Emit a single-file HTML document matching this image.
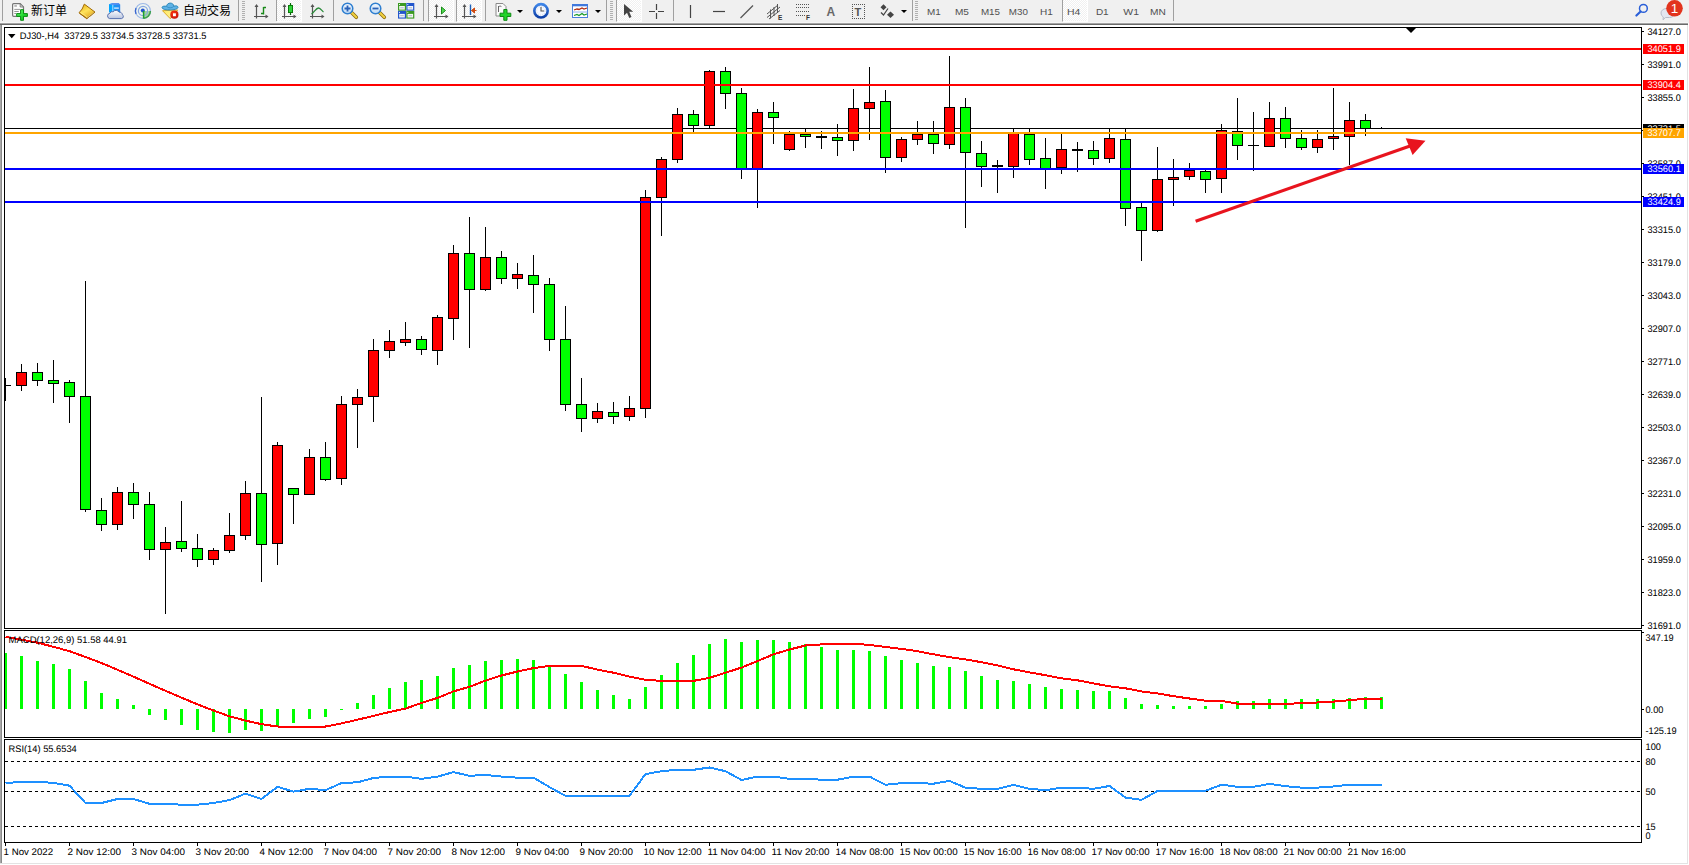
<!DOCTYPE html>
<html lang="zh-CN">
<head>
<meta charset="utf-8">
<title>DJ30-,H4</title>
<style>
html,body{margin:0;padding:0;}
body{width:1689px;height:865px;overflow:hidden;position:relative;background:#fff;font-family:"Liberation Sans","Noto Sans CJK SC",sans-serif;}
#tb{position:absolute;left:0;top:0;width:1689px;height:23px;background:#f0f0f0;}
#tbl1{position:absolute;left:0;top:22px;width:1688px;height:1px;background:#f6f6f6;}
#tbl2{position:absolute;left:0;top:23px;width:1688px;height:1px;background:#a4a4a4;}
#tbl3{position:absolute;left:0;top:24px;width:1688px;height:1px;background:#6a6a6a;}
#lb{position:absolute;left:0;top:25px;width:2px;height:838px;background:linear-gradient(90deg,#a8a8a8 50%,#8a8a8a 50%);}
#rb{position:absolute;left:1687px;top:25px;width:1px;height:839px;background:#e3e3e3;}
#bb{position:absolute;left:0;top:863px;width:1688px;height:1px;background:#e3e3e3;}
.sep{position:absolute;top:0;width:1px;height:21px;background:#a0a0a0;}
.grip{position:absolute;top:1px;width:3px;height:19px;background:repeating-linear-gradient(180deg,#b0b0b0 0,#b0b0b0 1px,transparent 1px,transparent 2px);}
.pr{position:absolute;top:0;height:22px;background:repeating-conic-gradient(#ffffff 0 25%,#f0f0f0 0 50%) 0 0/2px 2px;border-left:1px solid #a0a0a0;border-right:1px solid #fff;border-bottom:1px solid #fff;box-sizing:border-box;}
.ic{position:absolute;top:0;overflow:visible;}
.zh{position:absolute;top:3px;font-size:12px;line-height:16px;color:#000;white-space:nowrap;}
.tf{position:absolute;top:4px;font-size:9.6px;line-height:14px;color:#4a4a4a;white-space:nowrap;transform:translateX(-50%);}
.dd{position:absolute;top:10px;width:0;height:0;border-left:3px solid transparent;border-right:3px solid transparent;border-top:3px solid #000;}
</style>
</head>
<body>
<div id="tb">
<svg width="0" height="0" style="position:absolute"><defs>
<linearGradient id="gplus" x1="0" y1="0" x2="1" y2="1"><stop offset="0" stop-color="#7dff86"/><stop offset="0.5" stop-color="#25dd33"/><stop offset="1" stop-color="#0fae1c"/></linearGradient>
<linearGradient id="ggold" x1="0.2" y1="0" x2="0.8" y2="1"><stop offset="0" stop-color="#e8b418"/><stop offset="0.45" stop-color="#ffe25a"/><stop offset="1" stop-color="#dc9c12"/></linearGradient>
<linearGradient id="gcloud" x1="0" y1="0" x2="0" y2="1"><stop offset="0" stop-color="#ffffff"/><stop offset="1" stop-color="#b9c3de"/></linearGradient>
<linearGradient id="gbox" x1="0" y1="0" x2="1" y2="0"><stop offset="0" stop-color="#00a8ff"/><stop offset="1" stop-color="#2a86ee"/></linearGradient>
<linearGradient id="gfun" x1="0" y1="0" x2="1" y2="1"><stop offset="0" stop-color="#ffe860"/><stop offset="0.6" stop-color="#ffef8a"/><stop offset="1" stop-color="#e0a818"/></linearGradient>
<radialGradient id="gred" cx="0.4" cy="0.35" r="0.7"><stop offset="0" stop-color="#ff3a10"/><stop offset="1" stop-color="#c41208"/></radialGradient>
<linearGradient id="glens" x1="0" y1="0" x2="0" y2="1"><stop offset="0" stop-color="#f2f8ff"/><stop offset="1" stop-color="#bcd9f5"/></linearGradient>
<linearGradient id="gclk" x1="0" y1="0" x2="0" y2="1"><stop offset="0" stop-color="#3f86e8"/><stop offset="1" stop-color="#0d3fa8"/></linearGradient>
<radialGradient id="gbadge" cx="0.5" cy="0.3" r="0.8"><stop offset="0" stop-color="#ee5533"/><stop offset="1" stop-color="#d42210"/></radialGradient>
</defs></svg>
<div class="sep" style="left:2px"></div>
<!-- new order -->
<svg class="ic" style="left:11px" width="20" height="23" viewBox="0 0 20 23">
<path d="M2.600 3.700h6.600l3.300 3.300v9.300h-9.900a1 1 0 0 1-1-1v-10.600a1 1 0 0 1 1-1z" fill="#fefefe" stroke="#777" stroke-width="1.200"/>
<path d="M9.200 3.700v3.300h3.300z" fill="#dcdcdc" stroke="#777" stroke-width="0.900"/>
<rect x="3.300" y="5.300" width="2.600" height="1.300" fill="#999"/>
<path d="M3.300 9.400h5.800M3.300 11.500h4.500M3.300 13.500h2" stroke="#8c8c8c" stroke-width="0.900" fill="none"/>
<path d="M9.600 9.700h2.900v3.900h3.900v2.800h-3.900v3.900h-2.900v-3.900h-3.900v-2.800h3.900z" fill="url(#gplus)" stroke="#0b8a14" stroke-width="1"/>
</svg>
<span class="zh" style="left:31px">新订单</span>
<!-- gold book -->
<svg class="ic" style="left:78px" width="20" height="23" viewBox="0 0 20 23">
<path d="M6.300 4.100L17 12.100L8.800 18.700L1 12.800Q4.600 9.600 6.300 4.100z" fill="url(#ggold)" stroke="#a26a0a" stroke-width="1" stroke-linejoin="round"/>
<path d="M16.300 12.700L8.700 18.100" stroke="#f3e7b0" stroke-width="1.100" fill="none"/>
<path d="M1.600 13.300L8.800 18.500L16.700 12.400" stroke="#9a6408" stroke-width="0.900" fill="none"/>
<path d="M2.300 12.200L9 16.800" stroke="#fff0a0" stroke-width="0.800" fill="none" opacity="0.700"/>
</svg>
<!-- cloud -->
<svg class="ic" style="left:106px" width="20" height="23" viewBox="0 0 20 23">
<path d="M3 4.300l4-1.300h5.200l2 1.500v8h-11.200z" fill="url(#gbox)"/>
<path d="M3 4.300l4-1.300h5.200l2 1.500l-7.400 0.400z" fill="#5a8ff0"/>
<path d="M6.800 4.800v7" stroke="#d8f0ff" stroke-width="0.800"/>
<rect x="8.100" y="7.500" width="4.700" height="1.200" fill="#e8f4ff"/>
<path d="M3.600 18.600a2.700 2.700 0 0 1 0.300-5.300a2.600 2.600 0 0 1 3.300-1.500a3.400 3.400 0 0 1 5.800 0.400a2.500 2.500 0 0 1 3.200 2.300a2.200 2.200 0 0 1-0.700 4.100z" fill="url(#gcloud)" stroke="#4a64a8" stroke-width="0.900"/>
</svg>
<!-- signal -->
<svg class="ic" style="left:134px" width="20" height="23" viewBox="0 0 20 23">
<circle cx="9" cy="10.900" r="7.400" fill="#edf3f0" stroke="#9db8e6" stroke-width="1.200"/>
<path d="M9.700 10.900L16.400 10.900A7.400 7.400 0 0 1 9.700 18.300z" fill="#8fcf8f" opacity="0.850"/>
<path d="M9.700 18.300a7.400 7.400 0 0 0 6.700-7.400" fill="none" stroke="#3d9f4d" stroke-width="1.500"/>
<circle cx="9" cy="10.900" r="4.600" fill="none" stroke="#86a6e0" stroke-width="1.200"/>
<path d="M2 8a7.400 7.400 0 0 0 0 6" fill="none" stroke="#3a66d0" stroke-width="1.300"/>
<circle cx="8.800" cy="10.400" r="2" fill="#2456cc"/>
<path d="M9.600 11v7.600" stroke="#1fa22a" stroke-width="1.500"/>
</svg>
<!-- expert -->
<svg class="ic" style="left:161px" width="20" height="23" viewBox="0 0 20 23">
<path d="M1.500 10.700L16.700 10L9.300 18.700z" fill="url(#gfun)" stroke="#d8a21a" stroke-width="0.900" stroke-linejoin="round"/>
<path d="M1 7.800C1 5.800 4 6 5.600 6.300C6 2 12.500 2 12.800 6.200C14.500 5.600 17.200 5.600 17 7.600C16.500 10.500 2 11 1 7.800z" fill="#5fb2e6" stroke="#2684b4" stroke-width="0.900"/>
<path d="M5.600 6.400C7 8.300 11.500 8.300 12.800 6.300" fill="none" stroke="#2f8cc0" stroke-width="0.800"/>
<circle cx="13.400" cy="14.700" r="4.100" fill="url(#gred)"/>
<rect x="12" y="13.300" width="2.900" height="2.900" fill="#fff"/>
</svg>
<span class="zh" style="left:183px">自动交易</span>
<div class="sep" style="left:238px"></div><div class="grip" style="left:242px"></div>
<!-- bar chart -->
<svg class="ic" style="left:252px" width="20" height="23" viewBox="0 0 20 23">
<path d="M4.500 5v13.500M2 16.500h13.500" stroke="#555" stroke-width="1.200" fill="none"/>
<path d="M4.500 4l-2 3h4zM16.500 16.500l-3-2v4z" fill="#555"/>
<path d="M11.500 7v7.500M11.500 7.500h2.500M9 13.500h2.500" stroke="#1a8a1a" stroke-width="1.400" fill="none"/>
</svg>
<div class="sep" style="left:276px"></div>
<div class="pr" style="left:277px;width:25px;border-left:none"></div>
<!-- candle chart -->
<svg class="ic" style="left:280px" width="20" height="23" viewBox="0 0 20 23">
<path d="M4.500 5v13.500M2 16.500h13.500" stroke="#555" stroke-width="1.200" fill="none"/>
<path d="M4.500 4l-2 3h4zM16.500 16.500l-3-2v4z" fill="#555"/>
<path d="M10.500 3v12" stroke="#0a6a0a" stroke-width="1.200"/>
<rect x="8.500" y="5.500" width="4" height="7" fill="#2fd43a" stroke="#0a7a0a"/>
</svg>
<!-- line chart -->
<svg class="ic" style="left:308px" width="20" height="23" viewBox="0 0 20 23">
<path d="M4.500 5v13.500M2 16.500h13.500" stroke="#555" stroke-width="1.200" fill="none"/>
<path d="M4.500 4l-2 3h4zM16.500 16.500l-3-2v4z" fill="#555"/>
<path d="M3.500 14c3-2 4.500-6 7-6 2 0 3.500 3 5 4" stroke="#2a8a3a" stroke-width="1.300" fill="none"/>
</svg>
<div class="sep" style="left:333px"></div>
<!-- zoom in -->
<svg class="ic" style="left:340px" width="20" height="23" viewBox="0 0 20 23">
<path d="M11.300 12.300l5 5" stroke="#8a6a10" stroke-width="3.600" stroke-linecap="round"/><path d="M11.300 12.300l5 5" stroke="#f0d040" stroke-width="2" stroke-linecap="round"/>
<circle cx="7.500" cy="8.500" r="5.300" fill="url(#glens)" stroke="#2f7fd0" stroke-width="1.500"/>
<path d="M4.500 8.500h6M7.500 5.500v6" stroke="#2a62b8" stroke-width="1.800"/>
</svg>
<!-- zoom out -->
<svg class="ic" style="left:368px" width="20" height="23" viewBox="0 0 20 23">
<path d="M11.300 12.300l5 5" stroke="#8a6a10" stroke-width="3.600" stroke-linecap="round"/><path d="M11.300 12.300l5 5" stroke="#f0d040" stroke-width="2" stroke-linecap="round"/>
<circle cx="7.500" cy="8.500" r="5.300" fill="url(#glens)" stroke="#2f7fd0" stroke-width="1.500"/>
<path d="M4.500 8.500h6" stroke="#2a62b8" stroke-width="1.800"/>
</svg>
<!-- tile -->
<svg class="ic" style="left:397px" width="20" height="23" viewBox="0 0 20 23">
<rect x="1" y="3" width="8" height="7.700" fill="#3b9a22"/><rect x="9.300" y="3" width="8" height="7.700" fill="#2256cc"/>
<rect x="1" y="10.900" width="8" height="7.700" fill="#2256cc"/><rect x="9.300" y="10.900" width="8" height="7.700" fill="#3b9a22"/>
<rect x="2.200" y="6" width="5.600" height="3.600" fill="#f4f8f2"/><rect x="10.500" y="6" width="5.600" height="3.600" fill="#f2f5fc"/>
<rect x="2.200" y="13.900" width="5.600" height="3.600" fill="#f2f5fc"/><rect x="10.500" y="13.900" width="5.600" height="3.600" fill="#f4f8f2"/>
<path d="M3.200 7.800h3.600M11.500 7.800h3.600M3.200 15.700h3.600M11.500 15.700h3.600" stroke="#9ab" stroke-width="0.800"/>
<path d="M2 4.500h1M10.300 4.500h1M2 12.400h1M10.300 12.400h1" stroke="#fff" stroke-width="0.900"/>
</svg>
<div class="sep" style="left:423px"></div>
<div class="pr" style="left:428px;width:26px"></div>
<!-- autoscroll -->
<svg class="ic" style="left:432px" width="20" height="23" viewBox="0 0 20 23">
<path d="M4.500 5v13.500M2 16.500h13.500" stroke="#555" stroke-width="1.200" fill="none"/>
<path d="M4.500 4l-2 3h4zM16.500 16.500l-3-2v4z" fill="#555"/>
<path d="M9.500 7l4 3.500-4 3.500z" fill="#4fd84f" stroke="#1a8a1a"/>
</svg>
<div class="pr" style="left:456px;width:26px"></div>
<!-- chart shift -->
<svg class="ic" style="left:460px" width="20" height="23" viewBox="0 0 20 23">
<path d="M4.500 5v13.500M2 16.500h13.500" stroke="#555" stroke-width="1.200" fill="none"/>
<path d="M4.500 4l-2 3h4zM16.500 16.500l-3-2v4z" fill="#555"/>
<path d="M10.500 4.500v10.500" stroke="#1a5fb8" stroke-width="1.400"/>
<path d="M11.500 10.500h5M11.500 10.500l3-2.500v5z" stroke="#d04a10" fill="#d04a10" stroke-width="1"/>
</svg>
<div class="sep" style="left:485px"></div>
<!-- indicators -->
<svg class="ic" style="left:494px" width="20" height="23" viewBox="0 0 20 23">
<path d="M2 3.500h7l3 3v9.500h-10z" fill="#fafafa" stroke="#8a8a8a"/>
<path d="M4.500 6v6M4.500 7c2-2 3 0 3 0" stroke="#666" fill="none"/>
<path d="M9.800 9.500h3.200v3.700h3.800v3.300h-3.800v3.800h-3.200v-3.800h-3.800v-3.300h3.800z" fill="#22d32a" stroke="#0d8a12"/>
</svg>
<div class="dd" style="left:517px"></div>
<!-- clock -->
<svg class="ic" style="left:532px" width="20" height="23" viewBox="0 0 20 23">
<circle cx="9" cy="10.800" r="6.700" fill="#f6f9ff" stroke="url(#gclk)" stroke-width="2.600"/>
<circle cx="9" cy="10.800" r="4.300" fill="none" stroke="#b8c4d8" stroke-width="0.800" stroke-dasharray="0.800,1.450"/>
<path d="M9 7v4h3.200" stroke="#555" stroke-width="1.100" fill="none"/>
</svg>
<div class="dd" style="left:556px"></div>
<!-- template -->
<svg class="ic" style="left:571px" width="20" height="23" viewBox="0 0 20 23">
<rect x="1.500" y="4.500" width="15" height="13" fill="#fff" stroke="#4a7fdc"/>
<rect x="1" y="4" width="16" height="2.300" fill="#3f78dc"/>
<path d="M3 10l3-1 2 0.500 3-1.500 2 1 3-1" stroke="#b02a10" stroke-width="1.300" fill="none"/>
<path d="M1.500 12h15" stroke="#8fb0ea" stroke-width="1"/>
<path d="M3 15.500l3-1 2 1 3-2 2 1.500 3-1" stroke="#1a9a2a" stroke-width="1.300" fill="none"/>
</svg>
<div class="dd" style="left:595px"></div>
<div class="sep" style="left:606px"></div><div class="grip" style="left:610px"></div>
<div class="pr" style="left:616px;width:26px"></div>
<!-- cursor -->
<svg class="ic" style="left:620px" width="20" height="23" viewBox="0 0 20 23">
<path d="M4 4v11.500l3-2.800 2.300 5.300 2.200-1-2.300-5.200h4z" fill="#444"/>
</svg>
<!-- crosshair -->
<svg class="ic" style="left:646px" width="22" height="23" viewBox="0 0 22 23">
<path d="M10.500 4v6M10.500 13v6M3 11.500h6M12 11.500h6" stroke="#444" stroke-width="1.200"/>
</svg>
<div class="sep" style="left:673px"></div>
<svg class="ic" style="left:680px" width="240" height="23" viewBox="0 0 240 23">
<!-- vline x=690 -->
<path d="M10.500 5v13" stroke="#444" stroke-width="1.200"/>
<!-- hline 713-725 -->
<path d="M33 11.500h12" stroke="#444" stroke-width="1.200"/>
<!-- trendline -->
<path d="M60.500 18l12.500-12.500" stroke="#555" stroke-width="1.200"/>
<!-- channel -->
<path d="M87 14l11-9M87 17.500l13-10.500M89 19l11-8.500M90.500 9.500v9M94 7v9M97.500 4v9" stroke="#555" stroke-width="1" fill="none"/>
<text x="98" y="19.500" font-size="6.500" font-weight="bold" fill="#333" font-family="Liberation Sans, sans-serif">E</text>
<!-- fibo -->
<path d="M116 4.500h13M116 7.500h13M116 11.500h13M116 15.500h9" stroke="#555" stroke-width="1" stroke-dasharray="1,1" shape-rendering="crispEdges"/>
<text x="126" y="19.500" font-size="6.500" font-weight="bold" fill="#333" font-family="Liberation Sans, sans-serif">F</text>
<!-- A -->
<text x="146.500" y="15.800" font-size="12" font-weight="bold" fill="#686868" font-family="Liberation Sans, sans-serif">A</text>
<!-- T box -->
<g fill="#555" shape-rendering="crispEdges"><rect x="172" y="4" width="1" height="1"/><rect x="172" y="18" width="1" height="1"/><rect x="174" y="4" width="1" height="1"/><rect x="174" y="18" width="1" height="1"/><rect x="176" y="4" width="1" height="1"/><rect x="176" y="18" width="1" height="1"/><rect x="178" y="4" width="1" height="1"/><rect x="178" y="18" width="1" height="1"/><rect x="180" y="4" width="1" height="1"/><rect x="180" y="18" width="1" height="1"/><rect x="182" y="4" width="1" height="1"/><rect x="182" y="18" width="1" height="1"/><rect x="184" y="4" width="1" height="1"/><rect x="184" y="18" width="1" height="1"/><rect x="172" y="4" width="1" height="1"/><rect x="184" y="4" width="1" height="1"/><rect x="172" y="6" width="1" height="1"/><rect x="184" y="6" width="1" height="1"/><rect x="172" y="8" width="1" height="1"/><rect x="184" y="8" width="1" height="1"/><rect x="172" y="10" width="1" height="1"/><rect x="184" y="10" width="1" height="1"/><rect x="172" y="12" width="1" height="1"/><rect x="184" y="12" width="1" height="1"/><rect x="172" y="14" width="1" height="1"/><rect x="184" y="14" width="1" height="1"/><rect x="172" y="16" width="1" height="1"/><rect x="184" y="16" width="1" height="1"/><rect x="172" y="18" width="1" height="1"/><rect x="184" y="18" width="1" height="1"/></g>
<text x="174.600" y="16" font-size="11" font-weight="bold" fill="#555" font-family="Liberation Sans, sans-serif">T</text>
<!-- arrows -->
<path d="M203.500 4.300l3 3-3 3-3-3z" fill="#444"/>
<path d="M210.500 11.500l3.500 3.200-3.500 3.300-3.500-3.300z" fill="#444"/>
<path d="M201 12.500l2.500 2.500 4.500-6.500" stroke="#444" stroke-width="1.200" fill="none"/>
</svg>
<div class="dd" style="left:901px"></div>
<div class="sep" style="left:912px"></div><div class="grip" style="left:915px"></div>
<div class="pr" style="left:1062px;width:26px"></div>
<svg class="ic" style="left:920px" width="260" height="23" viewBox="920 0 260 23" font-family="Liberation Sans, sans-serif" font-size="9.800" fill="#505050"><text x="927.0" y="15" textLength="13.8" lengthAdjust="spacingAndGlyphs">M1</text><text x="954.9" y="15" textLength="14.0" lengthAdjust="spacingAndGlyphs">M5</text><text x="980.9" y="15" textLength="19.1" lengthAdjust="spacingAndGlyphs">M15</text><text x="1008.8" y="15" textLength="19.1" lengthAdjust="spacingAndGlyphs">M30</text><text x="1040.0" y="15" textLength="12.8" lengthAdjust="spacingAndGlyphs">H1</text><text x="1067.1" y="15" textLength="13.3" lengthAdjust="spacingAndGlyphs">H4</text><text x="1095.9" y="15" textLength="12.8" lengthAdjust="spacingAndGlyphs">D1</text><text x="1123.3" y="15" textLength="15.7" lengthAdjust="spacingAndGlyphs">W1</text><text x="1150.1" y="15" textLength="15.8" lengthAdjust="spacingAndGlyphs">MN</text></svg>
<div class="sep" style="left:1173px"></div>
<!-- search -->
<svg class="ic" style="left:1630px" width="24" height="23" viewBox="0 0 24 23">
<circle cx="13.400" cy="8.400" r="3.900" fill="none" stroke="#2a5fd8" stroke-width="1.500"/>
<path d="M10.600 11.500l-4.200 4" stroke="#2a5fd8" stroke-width="2.200" stroke-linecap="round"/>
</svg>
<!-- chat + badge -->
<svg class="ic" style="left:1656px" width="33" height="23" viewBox="0 0 33 23">
<path d="M5 13a5.500 4.500 0 0 1 5.500-4.500h3a5.500 4.500 0 0 1 0 9h-4l-2.500 2.300 0.300-2.800a5 4.500 0 0 1-2.300-4z" fill="#e3e6ef" stroke="#b8bcc8" stroke-width="1"/>
<circle cx="18.500" cy="8.300" r="8.300" fill="#e2341d"/>
<text x="18.500" y="13.300" font-size="13.500" fill="#fff" text-anchor="middle" font-family="Liberation Sans, sans-serif">1</text>
</svg>

</div>
<div id="tbl1"></div><div id="tbl2"></div><div id="tbl3"></div>
<div id="lb"></div><div id="rb"></div><div id="bb"></div>
<svg id="chart" width="1689" height="865" viewBox="0 0 1689 865" style="position:absolute;left:0;top:0" shape-rendering="crispEdges" font-family='"Liberation Sans", sans-serif' font-size="9.6" text-rendering="geometricPrecision">
<defs><clipPath id="cm"><rect x="5" y="28" width="1636" height="600"/></clipPath><clipPath id="c2"><rect x="5" y="631" width="1636" height="106"/></clipPath><clipPath id="c3"><rect x="5" y="740" width="1636" height="102"/></clipPath></defs>
<rect x="4" y="27" width="1638" height="1" fill="#000"/>
<rect x="4" y="628" width="1638" height="1" fill="#000"/>
<rect x="4" y="27" width="1" height="602" fill="#000"/>
<rect x="1641" y="27" width="1" height="602" fill="#000"/>
<rect x="4" y="630" width="1638" height="1" fill="#000"/>
<rect x="4" y="737" width="1638" height="1" fill="#000"/>
<rect x="4" y="630" width="1" height="108" fill="#000"/>
<rect x="1641" y="630" width="1" height="108" fill="#000"/>
<rect x="4" y="739" width="1638" height="1" fill="#000"/>
<rect x="4" y="842" width="1638" height="1" fill="#000"/>
<rect x="4" y="739" width="1" height="104" fill="#000"/>
<rect x="1641" y="739" width="1" height="104" fill="#000"/>
<g clip-path="url(#cm)">
<rect x="5" y="128" width="1636" height="1" fill="#000"/>
<rect x="5" y="378" width="1" height="23" fill="#000"/>
<rect x="0" y="385" width="11" height="1" fill="#000"/>
<rect x="21" y="364" width="1" height="27" fill="#000"/>
<rect x="16" y="372" width="11" height="14" fill="#000"/>
<rect x="17" y="373" width="9" height="12" fill="#ff0000"/>
<rect x="37" y="363" width="1" height="23" fill="#000"/>
<rect x="32" y="372" width="11" height="9" fill="#000"/>
<rect x="33" y="373" width="9" height="7" fill="#00ff00"/>
<rect x="53" y="360" width="1" height="43" fill="#000"/>
<rect x="48" y="380" width="11" height="4" fill="#000"/>
<rect x="49" y="381" width="9" height="2" fill="#00ff00"/>
<rect x="69" y="380" width="1" height="43" fill="#000"/>
<rect x="64" y="382" width="11" height="15" fill="#000"/>
<rect x="65" y="383" width="9" height="13" fill="#00ff00"/>
<rect x="85" y="281" width="1" height="231" fill="#000"/>
<rect x="80" y="396" width="11" height="114" fill="#000"/>
<rect x="81" y="397" width="9" height="112" fill="#00ff00"/>
<rect x="101" y="498" width="1" height="33" fill="#000"/>
<rect x="96" y="510" width="11" height="15" fill="#000"/>
<rect x="97" y="511" width="9" height="13" fill="#00ff00"/>
<rect x="117" y="487" width="1" height="43" fill="#000"/>
<rect x="112" y="492" width="11" height="33" fill="#000"/>
<rect x="113" y="493" width="9" height="31" fill="#ff0000"/>
<rect x="133" y="483" width="1" height="36" fill="#000"/>
<rect x="128" y="492" width="11" height="13" fill="#000"/>
<rect x="129" y="493" width="9" height="11" fill="#00ff00"/>
<rect x="149" y="492" width="1" height="68" fill="#000"/>
<rect x="144" y="504" width="11" height="46" fill="#000"/>
<rect x="145" y="505" width="9" height="44" fill="#00ff00"/>
<rect x="165" y="527" width="1" height="87" fill="#000"/>
<rect x="160" y="542" width="11" height="8" fill="#000"/>
<rect x="161" y="543" width="9" height="6" fill="#ff0000"/>
<rect x="181" y="501" width="1" height="51" fill="#000"/>
<rect x="176" y="541" width="11" height="8" fill="#000"/>
<rect x="177" y="542" width="9" height="6" fill="#00ff00"/>
<rect x="197" y="534" width="1" height="33" fill="#000"/>
<rect x="192" y="548" width="11" height="12" fill="#000"/>
<rect x="193" y="549" width="9" height="10" fill="#00ff00"/>
<rect x="213" y="548" width="1" height="17" fill="#000"/>
<rect x="208" y="550" width="11" height="10" fill="#000"/>
<rect x="209" y="551" width="9" height="8" fill="#ff0000"/>
<rect x="229" y="513" width="1" height="40" fill="#000"/>
<rect x="224" y="535" width="11" height="16" fill="#000"/>
<rect x="225" y="536" width="9" height="14" fill="#ff0000"/>
<rect x="245" y="481" width="1" height="59" fill="#000"/>
<rect x="240" y="493" width="11" height="43" fill="#000"/>
<rect x="241" y="494" width="9" height="41" fill="#ff0000"/>
<rect x="261" y="397" width="1" height="185" fill="#000"/>
<rect x="256" y="493" width="11" height="52" fill="#000"/>
<rect x="257" y="494" width="9" height="50" fill="#00ff00"/>
<rect x="277" y="442" width="1" height="123" fill="#000"/>
<rect x="272" y="445" width="11" height="99" fill="#000"/>
<rect x="273" y="446" width="9" height="97" fill="#ff0000"/>
<rect x="293" y="488" width="1" height="36" fill="#000"/>
<rect x="288" y="488" width="11" height="7" fill="#000"/>
<rect x="289" y="489" width="9" height="5" fill="#00ff00"/>
<rect x="309" y="449" width="1" height="46" fill="#000"/>
<rect x="304" y="457" width="11" height="38" fill="#000"/>
<rect x="305" y="458" width="9" height="36" fill="#ff0000"/>
<rect x="325" y="442" width="1" height="39" fill="#000"/>
<rect x="320" y="457" width="11" height="23" fill="#000"/>
<rect x="321" y="458" width="9" height="21" fill="#00ff00"/>
<rect x="341" y="396" width="1" height="89" fill="#000"/>
<rect x="336" y="404" width="11" height="75" fill="#000"/>
<rect x="337" y="405" width="9" height="73" fill="#ff0000"/>
<rect x="357" y="389" width="1" height="59" fill="#000"/>
<rect x="352" y="397" width="11" height="8" fill="#000"/>
<rect x="353" y="398" width="9" height="6" fill="#ff0000"/>
<rect x="373" y="339" width="1" height="83" fill="#000"/>
<rect x="368" y="350" width="11" height="47" fill="#000"/>
<rect x="369" y="351" width="9" height="45" fill="#ff0000"/>
<rect x="389" y="330" width="1" height="28" fill="#000"/>
<rect x="384" y="341" width="11" height="10" fill="#000"/>
<rect x="385" y="342" width="9" height="8" fill="#ff0000"/>
<rect x="405" y="322" width="1" height="24" fill="#000"/>
<rect x="400" y="339" width="11" height="4" fill="#000"/>
<rect x="401" y="340" width="9" height="2" fill="#ff0000"/>
<rect x="421" y="336" width="1" height="19" fill="#000"/>
<rect x="416" y="339" width="11" height="11" fill="#000"/>
<rect x="417" y="340" width="9" height="9" fill="#00ff00"/>
<rect x="437" y="315" width="1" height="50" fill="#000"/>
<rect x="432" y="317" width="11" height="34" fill="#000"/>
<rect x="433" y="318" width="9" height="32" fill="#ff0000"/>
<rect x="453" y="245" width="1" height="95" fill="#000"/>
<rect x="448" y="253" width="11" height="66" fill="#000"/>
<rect x="449" y="254" width="9" height="64" fill="#ff0000"/>
<rect x="469" y="217" width="1" height="131" fill="#000"/>
<rect x="464" y="253" width="11" height="37" fill="#000"/>
<rect x="465" y="254" width="9" height="35" fill="#00ff00"/>
<rect x="485" y="227" width="1" height="64" fill="#000"/>
<rect x="480" y="257" width="11" height="33" fill="#000"/>
<rect x="481" y="258" width="9" height="31" fill="#ff0000"/>
<rect x="501" y="251" width="1" height="33" fill="#000"/>
<rect x="496" y="257" width="11" height="22" fill="#000"/>
<rect x="497" y="258" width="9" height="20" fill="#00ff00"/>
<rect x="517" y="263" width="1" height="26" fill="#000"/>
<rect x="512" y="274" width="11" height="5" fill="#000"/>
<rect x="513" y="275" width="9" height="3" fill="#ff0000"/>
<rect x="533" y="255" width="1" height="58" fill="#000"/>
<rect x="528" y="275" width="11" height="10" fill="#000"/>
<rect x="529" y="276" width="9" height="8" fill="#00ff00"/>
<rect x="549" y="278" width="1" height="73" fill="#000"/>
<rect x="544" y="284" width="11" height="56" fill="#000"/>
<rect x="545" y="285" width="9" height="54" fill="#00ff00"/>
<rect x="565" y="306" width="1" height="105" fill="#000"/>
<rect x="560" y="339" width="11" height="66" fill="#000"/>
<rect x="561" y="340" width="9" height="64" fill="#00ff00"/>
<rect x="581" y="378" width="1" height="54" fill="#000"/>
<rect x="576" y="404" width="11" height="15" fill="#000"/>
<rect x="577" y="405" width="9" height="13" fill="#00ff00"/>
<rect x="597" y="403" width="1" height="20" fill="#000"/>
<rect x="592" y="411" width="11" height="8" fill="#000"/>
<rect x="593" y="412" width="9" height="6" fill="#ff0000"/>
<rect x="613" y="402" width="1" height="22" fill="#000"/>
<rect x="608" y="412" width="11" height="5" fill="#000"/>
<rect x="609" y="413" width="9" height="3" fill="#00ff00"/>
<rect x="629" y="396" width="1" height="25" fill="#000"/>
<rect x="624" y="408" width="11" height="9" fill="#000"/>
<rect x="625" y="409" width="9" height="7" fill="#ff0000"/>
<rect x="645" y="190" width="1" height="228" fill="#000"/>
<rect x="640" y="197" width="11" height="212" fill="#000"/>
<rect x="641" y="198" width="9" height="210" fill="#ff0000"/>
<rect x="661" y="157" width="1" height="79" fill="#000"/>
<rect x="656" y="159" width="11" height="39" fill="#000"/>
<rect x="657" y="160" width="9" height="37" fill="#ff0000"/>
<rect x="677" y="108" width="1" height="55" fill="#000"/>
<rect x="672" y="114" width="11" height="46" fill="#000"/>
<rect x="673" y="115" width="9" height="44" fill="#ff0000"/>
<rect x="693" y="110" width="1" height="22" fill="#000"/>
<rect x="688" y="114" width="11" height="12" fill="#000"/>
<rect x="689" y="115" width="9" height="10" fill="#00ff00"/>
<rect x="709" y="70" width="1" height="58" fill="#000"/>
<rect x="704" y="71" width="11" height="55" fill="#000"/>
<rect x="705" y="72" width="9" height="53" fill="#ff0000"/>
<rect x="725" y="67" width="1" height="42" fill="#000"/>
<rect x="720" y="71" width="11" height="23" fill="#000"/>
<rect x="721" y="72" width="9" height="21" fill="#00ff00"/>
<rect x="741" y="88" width="1" height="91" fill="#000"/>
<rect x="736" y="93" width="11" height="76" fill="#000"/>
<rect x="737" y="94" width="9" height="74" fill="#00ff00"/>
<rect x="757" y="109" width="1" height="99" fill="#000"/>
<rect x="752" y="112" width="11" height="57" fill="#000"/>
<rect x="753" y="113" width="9" height="55" fill="#ff0000"/>
<rect x="773" y="102" width="1" height="42" fill="#000"/>
<rect x="768" y="112" width="11" height="6" fill="#000"/>
<rect x="769" y="113" width="9" height="4" fill="#00ff00"/>
<rect x="789" y="131" width="1" height="20" fill="#000"/>
<rect x="784" y="134" width="11" height="16" fill="#000"/>
<rect x="785" y="135" width="9" height="14" fill="#ff0000"/>
<rect x="805" y="128" width="1" height="20" fill="#000"/>
<rect x="800" y="134" width="11" height="3" fill="#000"/>
<rect x="801" y="135" width="9" height="1" fill="#00ff00"/>
<rect x="821" y="131" width="1" height="18" fill="#000"/>
<rect x="816" y="136" width="11" height="2" fill="#000"/>
<rect x="837" y="124" width="1" height="32" fill="#000"/>
<rect x="832" y="137" width="11" height="4" fill="#000"/>
<rect x="833" y="138" width="9" height="2" fill="#00ff00"/>
<rect x="853" y="89" width="1" height="62" fill="#000"/>
<rect x="848" y="108" width="11" height="33" fill="#000"/>
<rect x="849" y="109" width="9" height="31" fill="#ff0000"/>
<rect x="869" y="67" width="1" height="73" fill="#000"/>
<rect x="864" y="102" width="11" height="7" fill="#000"/>
<rect x="865" y="103" width="9" height="5" fill="#ff0000"/>
<rect x="885" y="90" width="1" height="83" fill="#000"/>
<rect x="880" y="101" width="11" height="57" fill="#000"/>
<rect x="881" y="102" width="9" height="55" fill="#00ff00"/>
<rect x="901" y="137" width="1" height="25" fill="#000"/>
<rect x="896" y="139" width="11" height="19" fill="#000"/>
<rect x="897" y="140" width="9" height="17" fill="#ff0000"/>
<rect x="917" y="121" width="1" height="24" fill="#000"/>
<rect x="912" y="134" width="11" height="6" fill="#000"/>
<rect x="913" y="135" width="9" height="4" fill="#ff0000"/>
<rect x="933" y="121" width="1" height="33" fill="#000"/>
<rect x="928" y="134" width="11" height="10" fill="#000"/>
<rect x="929" y="135" width="9" height="8" fill="#00ff00"/>
<rect x="949" y="56" width="1" height="93" fill="#000"/>
<rect x="944" y="107" width="11" height="38" fill="#000"/>
<rect x="945" y="108" width="9" height="36" fill="#ff0000"/>
<rect x="965" y="98" width="1" height="130" fill="#000"/>
<rect x="960" y="107" width="11" height="46" fill="#000"/>
<rect x="961" y="108" width="9" height="44" fill="#00ff00"/>
<rect x="981" y="141" width="1" height="46" fill="#000"/>
<rect x="976" y="153" width="11" height="14" fill="#000"/>
<rect x="977" y="154" width="9" height="12" fill="#00ff00"/>
<rect x="997" y="160" width="1" height="33" fill="#000"/>
<rect x="992" y="165" width="11" height="2" fill="#000"/>
<rect x="1013" y="129" width="1" height="49" fill="#000"/>
<rect x="1008" y="133" width="11" height="34" fill="#000"/>
<rect x="1009" y="134" width="9" height="32" fill="#ff0000"/>
<rect x="1029" y="129" width="1" height="36" fill="#000"/>
<rect x="1024" y="134" width="11" height="26" fill="#000"/>
<rect x="1025" y="135" width="9" height="24" fill="#00ff00"/>
<rect x="1045" y="138" width="1" height="51" fill="#000"/>
<rect x="1040" y="158" width="11" height="11" fill="#000"/>
<rect x="1041" y="159" width="9" height="9" fill="#00ff00"/>
<rect x="1061" y="133" width="1" height="41" fill="#000"/>
<rect x="1056" y="149" width="11" height="19" fill="#000"/>
<rect x="1057" y="150" width="9" height="17" fill="#ff0000"/>
<rect x="1077" y="142" width="1" height="30" fill="#000"/>
<rect x="1072" y="149" width="11" height="2" fill="#000"/>
<rect x="1093" y="141" width="1" height="24" fill="#000"/>
<rect x="1088" y="150" width="11" height="9" fill="#000"/>
<rect x="1089" y="151" width="9" height="7" fill="#00ff00"/>
<rect x="1109" y="128" width="1" height="35" fill="#000"/>
<rect x="1104" y="138" width="11" height="21" fill="#000"/>
<rect x="1105" y="139" width="9" height="19" fill="#ff0000"/>
<rect x="1125" y="128" width="1" height="98" fill="#000"/>
<rect x="1120" y="139" width="11" height="70" fill="#000"/>
<rect x="1121" y="140" width="9" height="68" fill="#00ff00"/>
<rect x="1141" y="202" width="1" height="59" fill="#000"/>
<rect x="1136" y="207" width="11" height="24" fill="#000"/>
<rect x="1137" y="208" width="9" height="22" fill="#00ff00"/>
<rect x="1157" y="147" width="1" height="85" fill="#000"/>
<rect x="1152" y="179" width="11" height="52" fill="#000"/>
<rect x="1153" y="180" width="9" height="50" fill="#ff0000"/>
<rect x="1173" y="159" width="1" height="47" fill="#000"/>
<rect x="1168" y="177" width="11" height="3" fill="#000"/>
<rect x="1169" y="178" width="9" height="1" fill="#ff0000"/>
<rect x="1189" y="163" width="1" height="17" fill="#000"/>
<rect x="1184" y="170" width="11" height="7" fill="#000"/>
<rect x="1185" y="171" width="9" height="5" fill="#ff0000"/>
<rect x="1205" y="169" width="1" height="24" fill="#000"/>
<rect x="1200" y="171" width="11" height="9" fill="#000"/>
<rect x="1201" y="172" width="9" height="7" fill="#00ff00"/>
<rect x="1221" y="124" width="1" height="69" fill="#000"/>
<rect x="1216" y="130" width="11" height="49" fill="#000"/>
<rect x="1217" y="131" width="9" height="47" fill="#ff0000"/>
<rect x="1237" y="98" width="1" height="62" fill="#000"/>
<rect x="1232" y="131" width="11" height="15" fill="#000"/>
<rect x="1233" y="132" width="9" height="13" fill="#00ff00"/>
<rect x="1253" y="112" width="1" height="59" fill="#000"/>
<rect x="1248" y="145" width="11" height="1" fill="#000"/>
<rect x="1269" y="102" width="1" height="45" fill="#000"/>
<rect x="1264" y="118" width="11" height="29" fill="#000"/>
<rect x="1265" y="119" width="9" height="27" fill="#ff0000"/>
<rect x="1285" y="107" width="1" height="41" fill="#000"/>
<rect x="1280" y="118" width="11" height="21" fill="#000"/>
<rect x="1281" y="119" width="9" height="19" fill="#00ff00"/>
<rect x="1301" y="130" width="1" height="20" fill="#000"/>
<rect x="1296" y="138" width="11" height="10" fill="#000"/>
<rect x="1297" y="139" width="9" height="8" fill="#00ff00"/>
<rect x="1317" y="130" width="1" height="23" fill="#000"/>
<rect x="1312" y="139" width="11" height="9" fill="#000"/>
<rect x="1313" y="140" width="9" height="7" fill="#ff0000"/>
<rect x="1333" y="88" width="1" height="62" fill="#000"/>
<rect x="1328" y="136" width="11" height="3" fill="#000"/>
<rect x="1329" y="137" width="9" height="1" fill="#ff0000"/>
<rect x="1349" y="102" width="1" height="63" fill="#000"/>
<rect x="1344" y="120" width="11" height="17" fill="#000"/>
<rect x="1345" y="121" width="9" height="15" fill="#ff0000"/>
<rect x="1365" y="114" width="1" height="22" fill="#000"/>
<rect x="1360" y="120" width="11" height="9" fill="#000"/>
<rect x="1361" y="121" width="9" height="7" fill="#00ff00"/>
<rect x="1381" y="127" width="1" height="2" fill="#000"/>
<rect x="1376" y="128" width="11" height="1" fill="#000"/>
<rect x="5" y="48" width="1636" height="2" fill="#ff0000"/>
<rect x="5" y="84" width="1636" height="2" fill="#ff0000"/>
<rect x="5" y="132" width="1636" height="2" fill="#ffa500"/>
<rect x="5" y="168" width="1636" height="2" fill="#0000ff"/>
<rect x="5" y="201" width="1636" height="2" fill="#0000ff"/>
</g>
<g shape-rendering="geometricPrecision"><line x1="1195.6" y1="221.2" x2="1410" y2="146" stroke="#e8141e" stroke-width="3.2"/><polygon points="1425.5,140.7 1405.7,138.2 1412.6,154.9" fill="#e8141e"/></g>
<polygon points="1406,28 1416,28 1411,33" fill="#000" shape-rendering="geometricPrecision"/>
<g clip-path="url(#c2)">
<rect x="4" y="653" width="3" height="56" fill="#00ff00"/>
<rect x="20" y="656" width="3" height="53" fill="#00ff00"/>
<rect x="36" y="661" width="3" height="48" fill="#00ff00"/>
<rect x="52" y="664" width="3" height="45" fill="#00ff00"/>
<rect x="68" y="669" width="3" height="40" fill="#00ff00"/>
<rect x="84" y="681" width="3" height="28" fill="#00ff00"/>
<rect x="100" y="693" width="3" height="16" fill="#00ff00"/>
<rect x="116" y="699" width="3" height="10" fill="#00ff00"/>
<rect x="132" y="705" width="3" height="4" fill="#00ff00"/>
<rect x="148" y="709" width="3" height="6" fill="#00ff00"/>
<rect x="164" y="709" width="3" height="11" fill="#00ff00"/>
<rect x="180" y="709" width="3" height="16" fill="#00ff00"/>
<rect x="196" y="709" width="3" height="21" fill="#00ff00"/>
<rect x="212" y="709" width="3" height="23" fill="#00ff00"/>
<rect x="228" y="709" width="3" height="24" fill="#00ff00"/>
<rect x="244" y="709" width="3" height="21" fill="#00ff00"/>
<rect x="260" y="709" width="3" height="22" fill="#00ff00"/>
<rect x="276" y="709" width="3" height="17" fill="#00ff00"/>
<rect x="292" y="709" width="3" height="14" fill="#00ff00"/>
<rect x="308" y="709" width="3" height="10" fill="#00ff00"/>
<rect x="324" y="709" width="3" height="8" fill="#00ff00"/>
<rect x="340" y="709" width="3" height="1" fill="#00ff00"/>
<rect x="356" y="703" width="3" height="6" fill="#00ff00"/>
<rect x="372" y="695" width="3" height="14" fill="#00ff00"/>
<rect x="388" y="688" width="3" height="21" fill="#00ff00"/>
<rect x="404" y="682" width="3" height="27" fill="#00ff00"/>
<rect x="420" y="680" width="3" height="29" fill="#00ff00"/>
<rect x="436" y="676" width="3" height="33" fill="#00ff00"/>
<rect x="452" y="668" width="3" height="41" fill="#00ff00"/>
<rect x="468" y="665" width="3" height="44" fill="#00ff00"/>
<rect x="484" y="661" width="3" height="48" fill="#00ff00"/>
<rect x="500" y="660" width="3" height="49" fill="#00ff00"/>
<rect x="516" y="659" width="3" height="50" fill="#00ff00"/>
<rect x="532" y="660" width="3" height="49" fill="#00ff00"/>
<rect x="548" y="665" width="3" height="44" fill="#00ff00"/>
<rect x="564" y="674" width="3" height="35" fill="#00ff00"/>
<rect x="580" y="682" width="3" height="27" fill="#00ff00"/>
<rect x="596" y="690" width="3" height="19" fill="#00ff00"/>
<rect x="612" y="695" width="3" height="14" fill="#00ff00"/>
<rect x="628" y="699" width="3" height="10" fill="#00ff00"/>
<rect x="644" y="687" width="3" height="22" fill="#00ff00"/>
<rect x="660" y="675" width="3" height="34" fill="#00ff00"/>
<rect x="676" y="663" width="3" height="46" fill="#00ff00"/>
<rect x="692" y="655" width="3" height="54" fill="#00ff00"/>
<rect x="708" y="644" width="3" height="65" fill="#00ff00"/>
<rect x="724" y="639" width="3" height="70" fill="#00ff00"/>
<rect x="740" y="642" width="3" height="67" fill="#00ff00"/>
<rect x="756" y="640" width="3" height="69" fill="#00ff00"/>
<rect x="772" y="640" width="3" height="69" fill="#00ff00"/>
<rect x="788" y="642" width="3" height="67" fill="#00ff00"/>
<rect x="804" y="644" width="3" height="65" fill="#00ff00"/>
<rect x="820" y="647" width="3" height="62" fill="#00ff00"/>
<rect x="836" y="650" width="3" height="59" fill="#00ff00"/>
<rect x="852" y="650" width="3" height="59" fill="#00ff00"/>
<rect x="868" y="651" width="3" height="58" fill="#00ff00"/>
<rect x="884" y="656" width="3" height="53" fill="#00ff00"/>
<rect x="900" y="660" width="3" height="49" fill="#00ff00"/>
<rect x="916" y="663" width="3" height="46" fill="#00ff00"/>
<rect x="932" y="666" width="3" height="43" fill="#00ff00"/>
<rect x="948" y="667" width="3" height="42" fill="#00ff00"/>
<rect x="964" y="671" width="3" height="38" fill="#00ff00"/>
<rect x="980" y="676" width="3" height="33" fill="#00ff00"/>
<rect x="996" y="680" width="3" height="29" fill="#00ff00"/>
<rect x="1012" y="681" width="3" height="28" fill="#00ff00"/>
<rect x="1028" y="684" width="3" height="25" fill="#00ff00"/>
<rect x="1044" y="687" width="3" height="22" fill="#00ff00"/>
<rect x="1060" y="689" width="3" height="20" fill="#00ff00"/>
<rect x="1076" y="690" width="3" height="19" fill="#00ff00"/>
<rect x="1092" y="691" width="3" height="18" fill="#00ff00"/>
<rect x="1108" y="691" width="3" height="18" fill="#00ff00"/>
<rect x="1124" y="698" width="3" height="11" fill="#00ff00"/>
<rect x="1140" y="704" width="3" height="5" fill="#00ff00"/>
<rect x="1156" y="705" width="3" height="4" fill="#00ff00"/>
<rect x="1172" y="706" width="3" height="3" fill="#00ff00"/>
<rect x="1188" y="706" width="3" height="3" fill="#00ff00"/>
<rect x="1204" y="706" width="3" height="3" fill="#00ff00"/>
<rect x="1220" y="704" width="3" height="5" fill="#00ff00"/>
<rect x="1236" y="701" width="3" height="8" fill="#00ff00"/>
<rect x="1252" y="701" width="3" height="8" fill="#00ff00"/>
<rect x="1268" y="699" width="3" height="10" fill="#00ff00"/>
<rect x="1284" y="699" width="3" height="10" fill="#00ff00"/>
<rect x="1300" y="699" width="3" height="10" fill="#00ff00"/>
<rect x="1316" y="699" width="3" height="10" fill="#00ff00"/>
<rect x="1332" y="699" width="3" height="10" fill="#00ff00"/>
<rect x="1348" y="698" width="3" height="11" fill="#00ff00"/>
<rect x="1364" y="697" width="3" height="12" fill="#00ff00"/>
<rect x="1380" y="697" width="3" height="12" fill="#00ff00"/>
<polyline points="5.5,637.0 21.5,639.6 37.5,642.7 53.5,646.8 69.5,651.2 85.5,657.0 101.5,663.0 117.5,669.8 133.5,676.7 149.5,683.8 165.5,690.8 181.5,697.6 197.5,704.4 213.5,710.5 229.5,716.3 245.5,720.6 261.5,724.2 277.5,726.5 293.5,726.5 309.5,726.5 325.5,726.5 341.5,723.4 357.5,719.7 373.5,715.9 389.5,712.0 405.5,708.6 421.5,703.0 437.5,697.9 453.5,691.4 469.5,686.8 485.5,680.6 501.5,675.5 517.5,671.5 533.5,668.1 549.5,665.9 565.5,665.9 581.5,665.9 597.5,669.6 613.5,672.7 629.5,676.6 645.5,679.8 661.5,680.9 677.5,680.9 693.5,680.9 709.5,677.8 725.5,672.7 741.5,667.6 757.5,661.1 773.5,654.3 789.5,649.5 805.5,645.5 821.5,644.4 837.5,643.8 853.5,643.8 869.5,644.9 885.5,646.9 901.5,648.9 917.5,651.2 933.5,654.3 949.5,657.1 965.5,659.4 981.5,662.2 997.5,665.3 1013.5,669.3 1029.5,672.4 1045.5,675.2 1061.5,678.3 1077.5,680.3 1093.5,683.4 1109.5,686.3 1125.5,688.3 1141.5,691.4 1157.5,693.4 1173.5,696.2 1189.5,698.5 1205.5,700.7 1221.5,700.8 1237.5,703.7 1253.5,704.0 1269.5,704.0 1285.5,704.0 1301.5,703.1 1317.5,702.5 1333.5,701.6 1349.5,700.2 1365.5,698.7 1381.5,698.7" fill="none" stroke="#ff0000" stroke-width="2" stroke-linejoin="round"/>
</g>
<g clip-path="url(#c3)">
<line x1="5" y1="761.5" x2="1641" y2="761.5" stroke="#000" stroke-width="1" stroke-dasharray="3,3"/>
<line x1="5" y1="791.5" x2="1641" y2="791.5" stroke="#000" stroke-width="1" stroke-dasharray="3,3"/>
<line x1="5" y1="826.5" x2="1641" y2="826.5" stroke="#000" stroke-width="1" stroke-dasharray="3,3"/>
<polyline points="5.5,783.2 21.5,781.7 37.5,781.7 53.5,782.9 69.5,785.7 85.5,803.0 101.5,803.0 117.5,799.0 133.5,799.0 149.5,803.8 165.5,803.8 181.5,804.7 197.5,804.7 213.5,803.0 229.5,800.1 245.5,793.6 261.5,799.0 277.5,786.8 293.5,791.6 309.5,788.8 325.5,790.2 341.5,783.1 357.5,782.3 373.5,778.0 389.5,776.6 405.5,776.6 421.5,778.9 437.5,776.6 453.5,772.1 469.5,775.8 485.5,774.9 501.5,776.6 517.5,777.7 533.5,777.7 549.5,787.1 565.5,795.9 581.5,795.9 597.5,795.9 613.5,795.9 629.5,795.9 645.5,774.1 661.5,771.2 677.5,769.8 693.5,769.8 709.5,767.5 725.5,771.2 741.5,780.0 757.5,776.6 773.5,776.6 789.5,778.9 805.5,778.9 821.5,779.7 837.5,779.7 853.5,776.6 869.5,776.6 885.5,784.8 901.5,783.1 917.5,783.1 933.5,783.7 949.5,780.9 965.5,787.7 981.5,788.8 997.5,788.8 1013.5,784.8 1029.5,788.8 1045.5,790.2 1061.5,787.7 1077.5,787.7 1093.5,788.8 1109.5,786.0 1125.5,797.6 1141.5,799.8 1157.5,791.1 1173.5,791.1 1189.5,791.1 1205.5,790.8 1221.5,784.7 1237.5,786.8 1253.5,786.8 1269.5,783.9 1285.5,786.2 1301.5,787.6 1317.5,787.6 1333.5,786.5 1349.5,784.7 1365.5,784.7 1381.5,784.7" fill="none" stroke="#1e90ff" stroke-width="2" stroke-linejoin="round"/>
</g>
<g shape-rendering="geometricPrecision" fill="#000" stroke="#000" stroke-width="0.04">
<rect x="1642" y="31" width="2" height="1" stroke="none" shape-rendering="crispEdges"/>
<text x="1647.5" y="35" textLength="33.3" lengthAdjust="spacingAndGlyphs">34127.0</text>
<rect x="1642" y="64" width="2" height="1" stroke="none" shape-rendering="crispEdges"/>
<text x="1647.5" y="68" textLength="33.3" lengthAdjust="spacingAndGlyphs">33991.0</text>
<rect x="1642" y="97" width="2" height="1" stroke="none" shape-rendering="crispEdges"/>
<text x="1647.5" y="101" textLength="33.3" lengthAdjust="spacingAndGlyphs">33855.0</text>
<rect x="1642" y="130" width="2" height="1" stroke="none" shape-rendering="crispEdges"/>
<text x="1647.5" y="134" textLength="33.3" lengthAdjust="spacingAndGlyphs">33719.0</text>
<rect x="1642" y="163" width="2" height="1" stroke="none" shape-rendering="crispEdges"/>
<text x="1647.5" y="167" textLength="33.3" lengthAdjust="spacingAndGlyphs">33587.0</text>
<rect x="1642" y="196" width="2" height="1" stroke="none" shape-rendering="crispEdges"/>
<text x="1647.5" y="200" textLength="33.3" lengthAdjust="spacingAndGlyphs">33451.0</text>
<rect x="1642" y="229" width="2" height="1" stroke="none" shape-rendering="crispEdges"/>
<text x="1647.5" y="233" textLength="33.3" lengthAdjust="spacingAndGlyphs">33315.0</text>
<rect x="1642" y="262" width="2" height="1" stroke="none" shape-rendering="crispEdges"/>
<text x="1647.5" y="266" textLength="33.3" lengthAdjust="spacingAndGlyphs">33179.0</text>
<rect x="1642" y="295" width="2" height="1" stroke="none" shape-rendering="crispEdges"/>
<text x="1647.5" y="299" textLength="33.3" lengthAdjust="spacingAndGlyphs">33043.0</text>
<rect x="1642" y="328" width="2" height="1" stroke="none" shape-rendering="crispEdges"/>
<text x="1647.5" y="332" textLength="33.3" lengthAdjust="spacingAndGlyphs">32907.0</text>
<rect x="1642" y="361" width="2" height="1" stroke="none" shape-rendering="crispEdges"/>
<text x="1647.5" y="365" textLength="33.3" lengthAdjust="spacingAndGlyphs">32771.0</text>
<rect x="1642" y="394" width="2" height="1" stroke="none" shape-rendering="crispEdges"/>
<text x="1647.5" y="398" textLength="33.3" lengthAdjust="spacingAndGlyphs">32639.0</text>
<rect x="1642" y="427" width="2" height="1" stroke="none" shape-rendering="crispEdges"/>
<text x="1647.5" y="431" textLength="33.3" lengthAdjust="spacingAndGlyphs">32503.0</text>
<rect x="1642" y="460" width="2" height="1" stroke="none" shape-rendering="crispEdges"/>
<text x="1647.5" y="464" textLength="33.3" lengthAdjust="spacingAndGlyphs">32367.0</text>
<rect x="1642" y="493" width="2" height="1" stroke="none" shape-rendering="crispEdges"/>
<text x="1647.5" y="497" textLength="33.3" lengthAdjust="spacingAndGlyphs">32231.0</text>
<rect x="1642" y="526" width="2" height="1" stroke="none" shape-rendering="crispEdges"/>
<text x="1647.5" y="530" textLength="33.3" lengthAdjust="spacingAndGlyphs">32095.0</text>
<rect x="1642" y="559" width="2" height="1" stroke="none" shape-rendering="crispEdges"/>
<text x="1647.5" y="563" textLength="33.3" lengthAdjust="spacingAndGlyphs">31959.0</text>
<rect x="1642" y="592" width="2" height="1" stroke="none" shape-rendering="crispEdges"/>
<text x="1647.5" y="596" textLength="33.3" lengthAdjust="spacingAndGlyphs">31823.0</text>
<rect x="1642" y="625" width="2" height="1" stroke="none" shape-rendering="crispEdges"/>
<text x="1647.5" y="629" textLength="33.3" lengthAdjust="spacingAndGlyphs">31691.0</text>
<rect x="1643" y="44" width="41" height="10" fill="#ff0000" stroke="none" shape-rendering="crispEdges"/>
<text x="1647.5" y="51.6" textLength="33.3" lengthAdjust="spacingAndGlyphs" fill="#fff" stroke="none">34051.9</text>
<rect x="1643" y="80" width="41" height="10" fill="#ff0000" stroke="none" shape-rendering="crispEdges"/>
<text x="1647.5" y="87.6" textLength="33.3" lengthAdjust="spacingAndGlyphs" fill="#fff" stroke="none">33904.4</text>
<rect x="1643" y="124" width="41" height="10" fill="#000000" stroke="none" shape-rendering="crispEdges"/>
<text x="1647.5" y="131.6" textLength="33.3" lengthAdjust="spacingAndGlyphs" fill="#fff" stroke="none">33731.5</text>
<rect x="1643" y="128" width="41" height="10" fill="#ffa500" stroke="none" shape-rendering="crispEdges"/>
<text x="1647.5" y="135.6" textLength="33.3" lengthAdjust="spacingAndGlyphs" fill="#fff" stroke="none">33707.7</text>
<rect x="1643" y="164" width="41" height="10" fill="#0000ff" stroke="none" shape-rendering="crispEdges"/>
<text x="1647.5" y="171.6" textLength="33.3" lengthAdjust="spacingAndGlyphs" fill="#fff" stroke="none">33560.1</text>
<rect x="1643" y="197" width="41" height="10" fill="#0000ff" stroke="none" shape-rendering="crispEdges"/>
<text x="1647.5" y="204.6" textLength="33.3" lengthAdjust="spacingAndGlyphs" fill="#fff" stroke="none">33424.9</text>
<text x="1645.5" y="640.5" textLength="28.1" lengthAdjust="spacingAndGlyphs">347.19</text>
<text x="1645.5" y="712.5" textLength="17.9" lengthAdjust="spacingAndGlyphs">0.00</text>
<text x="1645.5" y="733.5" textLength="31.2" lengthAdjust="spacingAndGlyphs">-125.19</text>
<rect x="1642" y="632" width="2" height="1" stroke="none" shape-rendering="crispEdges"/>
<rect x="1642" y="709" width="2" height="1" stroke="none" shape-rendering="crispEdges"/>
<text x="1645.5" y="749.5" textLength="15.4" lengthAdjust="spacingAndGlyphs">100</text>
<text x="1645.5" y="764.5" textLength="10.2" lengthAdjust="spacingAndGlyphs">80</text>
<text x="1645.5" y="794.5" textLength="10.2" lengthAdjust="spacingAndGlyphs">50</text>
<text x="1645.5" y="829.5" textLength="10.2" lengthAdjust="spacingAndGlyphs">15</text>
<text x="1645.5" y="839.0" textLength="5.1" lengthAdjust="spacingAndGlyphs">0</text>
<polygon points="8,34 15.5,34 11.75,38.3" stroke="none"/>
<text x="19.8" y="39" textLength="186.6" lengthAdjust="spacingAndGlyphs">DJ30-,H4&#160;&#160;33729.5 33734.5 33728.5 33731.5</text>
<text x="8.6" y="643" textLength="118.4" lengthAdjust="spacingAndGlyphs">MACD(12,26,9) 51.58 44.91</text>
<text x="8.5" y="752" textLength="68.3" lengthAdjust="spacingAndGlyphs">RSI(14) 55.6534</text>
<rect x="5" y="843" width="1" height="3" stroke="none" shape-rendering="crispEdges"/>
<text x="3.6" y="855" textLength="49.5" lengthAdjust="spacingAndGlyphs">1 Nov 2022</text>
<rect x="69" y="843" width="1" height="3" stroke="none" shape-rendering="crispEdges"/>
<text x="67.6" y="855" textLength="53.3" lengthAdjust="spacingAndGlyphs">2 Nov 12:00</text>
<rect x="133" y="843" width="1" height="3" stroke="none" shape-rendering="crispEdges"/>
<text x="131.6" y="855" textLength="53.3" lengthAdjust="spacingAndGlyphs">3 Nov 04:00</text>
<rect x="197" y="843" width="1" height="3" stroke="none" shape-rendering="crispEdges"/>
<text x="195.6" y="855" textLength="53.3" lengthAdjust="spacingAndGlyphs">3 Nov 20:00</text>
<rect x="261" y="843" width="1" height="3" stroke="none" shape-rendering="crispEdges"/>
<text x="259.6" y="855" textLength="53.3" lengthAdjust="spacingAndGlyphs">4 Nov 12:00</text>
<rect x="325" y="843" width="1" height="3" stroke="none" shape-rendering="crispEdges"/>
<text x="323.6" y="855" textLength="53.3" lengthAdjust="spacingAndGlyphs">7 Nov 04:00</text>
<rect x="389" y="843" width="1" height="3" stroke="none" shape-rendering="crispEdges"/>
<text x="387.6" y="855" textLength="53.3" lengthAdjust="spacingAndGlyphs">7 Nov 20:00</text>
<rect x="453" y="843" width="1" height="3" stroke="none" shape-rendering="crispEdges"/>
<text x="451.6" y="855" textLength="53.3" lengthAdjust="spacingAndGlyphs">8 Nov 12:00</text>
<rect x="517" y="843" width="1" height="3" stroke="none" shape-rendering="crispEdges"/>
<text x="515.6" y="855" textLength="53.3" lengthAdjust="spacingAndGlyphs">9 Nov 04:00</text>
<rect x="581" y="843" width="1" height="3" stroke="none" shape-rendering="crispEdges"/>
<text x="579.6" y="855" textLength="53.3" lengthAdjust="spacingAndGlyphs">9 Nov 20:00</text>
<rect x="645" y="843" width="1" height="3" stroke="none" shape-rendering="crispEdges"/>
<text x="643.6" y="855" textLength="58.0" lengthAdjust="spacingAndGlyphs">10 Nov 12:00</text>
<rect x="709" y="843" width="1" height="3" stroke="none" shape-rendering="crispEdges"/>
<text x="707.6" y="855" textLength="58.0" lengthAdjust="spacingAndGlyphs">11 Nov 04:00</text>
<rect x="773" y="843" width="1" height="3" stroke="none" shape-rendering="crispEdges"/>
<text x="771.6" y="855" textLength="58.0" lengthAdjust="spacingAndGlyphs">11 Nov 20:00</text>
<rect x="837" y="843" width="1" height="3" stroke="none" shape-rendering="crispEdges"/>
<text x="835.6" y="855" textLength="58.0" lengthAdjust="spacingAndGlyphs">14 Nov 08:00</text>
<rect x="901" y="843" width="1" height="3" stroke="none" shape-rendering="crispEdges"/>
<text x="899.6" y="855" textLength="58.0" lengthAdjust="spacingAndGlyphs">15 Nov 00:00</text>
<rect x="965" y="843" width="1" height="3" stroke="none" shape-rendering="crispEdges"/>
<text x="963.6" y="855" textLength="58.0" lengthAdjust="spacingAndGlyphs">15 Nov 16:00</text>
<rect x="1029" y="843" width="1" height="3" stroke="none" shape-rendering="crispEdges"/>
<text x="1027.6" y="855" textLength="58.0" lengthAdjust="spacingAndGlyphs">16 Nov 08:00</text>
<rect x="1093" y="843" width="1" height="3" stroke="none" shape-rendering="crispEdges"/>
<text x="1091.6" y="855" textLength="58.0" lengthAdjust="spacingAndGlyphs">17 Nov 00:00</text>
<rect x="1157" y="843" width="1" height="3" stroke="none" shape-rendering="crispEdges"/>
<text x="1155.6" y="855" textLength="58.0" lengthAdjust="spacingAndGlyphs">17 Nov 16:00</text>
<rect x="1221" y="843" width="1" height="3" stroke="none" shape-rendering="crispEdges"/>
<text x="1219.6" y="855" textLength="58.0" lengthAdjust="spacingAndGlyphs">18 Nov 08:00</text>
<rect x="1285" y="843" width="1" height="3" stroke="none" shape-rendering="crispEdges"/>
<text x="1283.6" y="855" textLength="58.0" lengthAdjust="spacingAndGlyphs">21 Nov 00:00</text>
<rect x="1349" y="843" width="1" height="3" stroke="none" shape-rendering="crispEdges"/>
<text x="1347.6" y="855" textLength="58.0" lengthAdjust="spacingAndGlyphs">21 Nov 16:00</text>
</g>
</svg>
</body>
</html>
